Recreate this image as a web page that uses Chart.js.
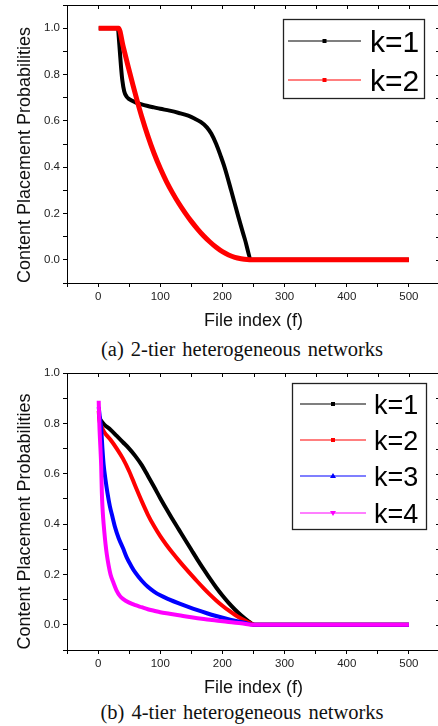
<!DOCTYPE html>
<html>
<head>
<meta charset="utf-8">
<script src="https://cdn.jsdelivr.net/npm/chart.js@4.4.0/dist/chart.umd.min.js"></script>
<style>
  html, body { margin: 0; padding: 0; background: #fff; width: 438px; height: 726px; overflow: hidden; }
  canvas { position: absolute; left: 0; }
  #chartTwoTier { top: 0; }
  #chartFourTier { top: 360px; }
  .cap {
    position: absolute; left: 0; width: 484px; text-align: center;
    font-family: "Liberation Serif", "Times New Roman", serif;
    font-size: 20.5px; line-height: 22px; word-spacing: 2px; color: #111; white-space: nowrap;
  }
</style>
</head>
<body>
<canvas id="chartTwoTier" width="441" height="335"></canvas>
<div class="cap" style="top:338px">(a) 2-tier heterogeneous networks</div>
<canvas id="chartFourTier" width="441" height="340"></canvas>
<div class="cap" style="top:701px">(b) 4-tier heterogeneous networks</div>

<script>
// file index / placement probability pairs, 2-tier network
var twoTierK1F = [1, 32, 33, 35, 37, 39, 42, 46, 50, 60, 70, 80, 90, 100, 115, 130, 145, 155, 165, 175, 182, 190, 197, 204, 214, 225, 236, 247, 500];
var twoTierK1P = [1, 1, 0.97, 0.9, 0.83, 0.775, 0.728, 0.704, 0.694, 0.68, 0.671, 0.664, 0.658, 0.652, 0.644, 0.634, 0.622, 0.61, 0.595, 0.572, 0.545, 0.5, 0.45, 0.395, 0.3, 0.192, 0.09, 0, 0];

var twoTierK2F = [1, 33, 40, 48, 56, 63, 70, 80, 90, 100, 110, 120, 130, 140, 150, 160, 170, 180, 190, 200, 210, 220, 230, 240, 247, 500];
var twoTierK2P = [1, 1, 0.925, 0.838, 0.755, 0.685, 0.62, 0.535, 0.46, 0.395, 0.338, 0.288, 0.243, 0.203, 0.166, 0.133, 0.103, 0.077, 0.054, 0.035, 0.021, 0.011, 0.005, 0.001, 0, 0];

// 4-tier network
var fourTierK1F = [1, 5, 10, 20, 30, 40, 50, 60, 70, 80, 90, 100, 110, 120, 130, 140, 150, 160, 170, 180, 190, 200, 210, 220, 230, 240, 252, 500];
var fourTierK1P = [0.83, 0.81, 0.795, 0.775, 0.75, 0.725, 0.7, 0.67, 0.635, 0.592, 0.548, 0.503, 0.46, 0.418, 0.378, 0.338, 0.298, 0.258, 0.22, 0.183, 0.148, 0.116, 0.087, 0.061, 0.038, 0.018, 0, 0];

var fourTierK2F = [1, 2, 5, 10, 20, 30, 40, 50, 60, 70, 80, 90, 100, 110, 120, 130, 140, 150, 160, 170, 180, 190, 200, 210, 220, 230, 240, 252, 500];
var fourTierK2P = [0.85, 0.815, 0.79, 0.765, 0.735, 0.7, 0.66, 0.61, 0.55, 0.492, 0.438, 0.392, 0.352, 0.317, 0.285, 0.255, 0.226, 0.198, 0.171, 0.145, 0.12, 0.097, 0.076, 0.057, 0.04, 0.025, 0.012, 0, 0];

var fourTierK3F = [1, 3, 5, 7, 9, 12, 15, 19, 23, 27, 33, 40, 46, 53, 60, 70, 80, 90, 100, 115, 130, 145, 160, 175, 190, 205, 220, 235, 252, 500];
var fourTierK3P = [0.865, 0.82, 0.78, 0.7, 0.635, 0.575, 0.525, 0.47, 0.43, 0.39, 0.345, 0.305, 0.268, 0.235, 0.207, 0.176, 0.151, 0.132, 0.117, 0.1, 0.085, 0.071, 0.058, 0.046, 0.035, 0.025, 0.016, 0.008, 0, 0];

var fourTierK4F = [1, 2, 3, 4, 5, 6, 7, 8, 10, 12, 14, 17, 20, 25, 30, 35, 40, 50, 60, 70, 80, 90, 100, 115, 130, 150, 170, 190, 210, 230, 252, 500];
var fourTierK4P = [0.89, 0.8, 0.74, 0.69, 0.63, 0.53, 0.47, 0.43, 0.37, 0.32, 0.28, 0.235, 0.2, 0.165, 0.135, 0.115, 0.103, 0.088, 0.078, 0.07, 0.062, 0.056, 0.05, 0.044, 0.038, 0.03, 0.023, 0.017, 0.011, 0.006, 0, 0];

var xTickLabels = [0, 100, 200, 300, 400, 500];
var yTitle = 'Content Placement Probabilities';
var xTitle = 'File index (f)';

var SANS = '"Liberation Sans", Arial, sans-serif';

function pts(fs, ps) {
    return fs.map(function (f, i) { return { x: f, y: ps[i] }; });
}

function series(label, fs, ps, color, width, order, marker) {
    return {
        label: label,
        data: pts(fs, ps),
        borderColor: color,
        backgroundColor: color,
        borderWidth: width,
        pointRadius: 0,
        cubicInterpolationMode: 'monotone',
        borderJoinStyle: 'round',
        order: order,
        marker: marker
    };
}

function drawMarker(ctx, shape, x, y, color) {
    ctx.fillStyle = color;
    ctx.beginPath();
    if (shape === 'up') {
        ctx.moveTo(x, y - 3); ctx.lineTo(x + 3, y + 2); ctx.lineTo(x - 3, y + 2);
    } else if (shape === 'down') {
        ctx.moveTo(x, y + 3); ctx.lineTo(x + 3, y - 2); ctx.lineTo(x - 3, y - 2);
    } else {
        ctx.rect(x - 2, y - 2, 4, 4);
    }
    ctx.closePath();
    ctx.fill();
}

// box frame with inward ticks on top/right, rotated y title and boxed legend
var framePlugin = {
    id: 'frame',
    afterDraw: function (chart, args, opts) {
        var ctx = chart.ctx, a = chart.chartArea;
        var sx = chart.scales.x, sy = chart.scales.y;
        ctx.save();
        ctx.strokeStyle = '#000';
        ctx.lineWidth = 1;
        ctx.beginPath();
        ctx.moveTo(a.left, a.top + 0.5); ctx.lineTo(a.right, a.top + 0.5);
        ctx.moveTo(a.right - 0.5, a.top); ctx.lineTo(a.right - 0.5, a.bottom);
        sx.ticks.forEach(function (t) {
            var px = Math.round(sx.getPixelForValue(t.value)) + 0.5;
            ctx.moveTo(px, a.top); ctx.lineTo(px, a.top + 4);
        });
        sy.ticks.forEach(function (t) {
            var py = Math.round(sy.getPixelForValue(t.value)) + 0.5;
            ctx.moveTo(a.right, py); ctx.lineTo(a.right - 4, py);
        });
        ctx.stroke();

        ctx.save();
        ctx.translate(opts.titleX, (a.top + a.bottom) / 2 + opts.titleShift);
        ctx.rotate(-Math.PI / 2);
        ctx.font = '18px ' + SANS;
        ctx.fillStyle = '#111';
        ctx.textAlign = 'center';
        ctx.textBaseline = 'middle';
        ctx.fillText(yTitle, 0, 0);
        ctx.restore();

        var lg = opts.legend;
        ctx.fillStyle = '#fff';
        ctx.fillRect(lg.x, lg.y, lg.w, lg.h);
        ctx.strokeStyle = '#222';
        ctx.lineWidth = 1.3;
        ctx.strokeRect(lg.x + 0.5, lg.y + 0.5, lg.w, lg.h);
        ctx.font = lg.font + 'px ' + SANS;
        ctx.textAlign = 'left';
        ctx.textBaseline = 'alphabetic';
        chart.data.datasets.forEach(function (ds, i) {
            var ry = lg.rows[i];
            ctx.strokeStyle = ds.borderColor;
            ctx.lineWidth = 1.2;
            ctx.beginPath();
            ctx.moveTo(lg.lineX[0], ry); ctx.lineTo(lg.lineX[1], ry);
            ctx.stroke();
            drawMarker(ctx, ds.marker, (lg.lineX[0] + lg.lineX[1]) / 2, ry, ds.borderColor);
            ctx.fillStyle = '#000';
            ctx.fillText(ds.label, lg.textX, ry + lg.font * 0.36);
        });
        ctx.restore();
    }
};

function makeChart(id, datasets, yMax, padTop, xAxisH, titlePad, frameOpts) {
    return new Chart(document.getElementById(id).getContext('2d'), {
        type: 'line',
        data: { datasets: datasets },
        plugins: [framePlugin],
        options: {
            responsive: false,
            animation: false,
            layout: { padding: { left: 0, right: 1, top: padTop, bottom: 0 } },
            plugins: { legend: { display: false }, tooltip: { enabled: false }, frame: frameOpts },
            scales: {
                x: {
                    type: 'linear', min: -50, max: 550,
                    afterFit: function (s) { s.height = xAxisH; s.paddingLeft = 0; s.paddingRight = 0; },
                    ticks: {
                        stepSize: 50, autoSkip: false, maxRotation: 0, padding: 3,
                        color: '#222', font: { family: SANS, size: 11.5 },
                        callback: function (v) { return xTickLabels.indexOf(v) >= 0 ? String(v) : ''; }
                    },
                    grid: { drawOnChartArea: false, drawTicks: true, tickLength: 4, color: '#000', tickColor: '#000' },
                    border: { display: true, color: '#000', width: 1 },
                    title: { display: true, text: xTitle, color: '#111', font: { family: SANS, size: 18 }, padding: { top: 0, bottom: titlePad } }
                },
                y: {
                    min: -0.1, max: yMax,
                    afterFit: function (s) { s.width = 67; s.paddingTop = 0; s.paddingBottom = 0; },
                    ticks: {
                        stepSize: 0.1, autoSkip: false, padding: 3,
                        color: '#222', font: { family: SANS, size: 11.5 },
                        callback: function (v) {
                            var t = Math.round(v * 10);
                            return (t >= 0 && t <= 10 && t % 2 === 0) ? (t / 10).toFixed(1) : '';
                        }
                    },
                    grid: { drawOnChartArea: false, drawTicks: true, tickLength: 4, color: '#000', tickColor: '#000' },
                    border: { display: true, color: '#000', width: 1 }
                }
            }
        }
    });
}

makeChart('chartTwoTier', [
    series('k=1', twoTierK1F, twoTierK1P, '#000000', 4, 2, 'rect'),
    series('k=2', twoTierK2F, twoTierK2P, '#ff0000', 5, 1, 'rect')
], 1.1, 5, 52, 3, {
    titleX: 25, titleShift: 11,
    legend: { x: 283, y: 19, w: 141, h: 79, rows: [41, 80], lineX: [288, 361], textX: 370, font: 30 }
});

makeChart('chartFourTier', [
    series('k=1', fourTierK1F, fourTierK1P, '#000000', 4, 4, 'rect'),
    series('k=2', fourTierK2F, fourTierK2P, '#ff0000', 4, 3, 'rect'),
    series('k=3', fourTierK3F, fourTierK3P, '#0000ff', 4, 2, 'up'),
    series('k=4', fourTierK4F, fourTierK4P, '#ff00ff', 4, 1, 'down')
], 1.0, 13, 50, 1, {
    titleX: 25, titleShift: 10,
    legend: { x: 292, y: 23, w: 134, h: 146, rows: [44, 80, 116, 153], lineX: [300, 366], textX: 374, font: 27 }
});
</script>
</body>
</html>
